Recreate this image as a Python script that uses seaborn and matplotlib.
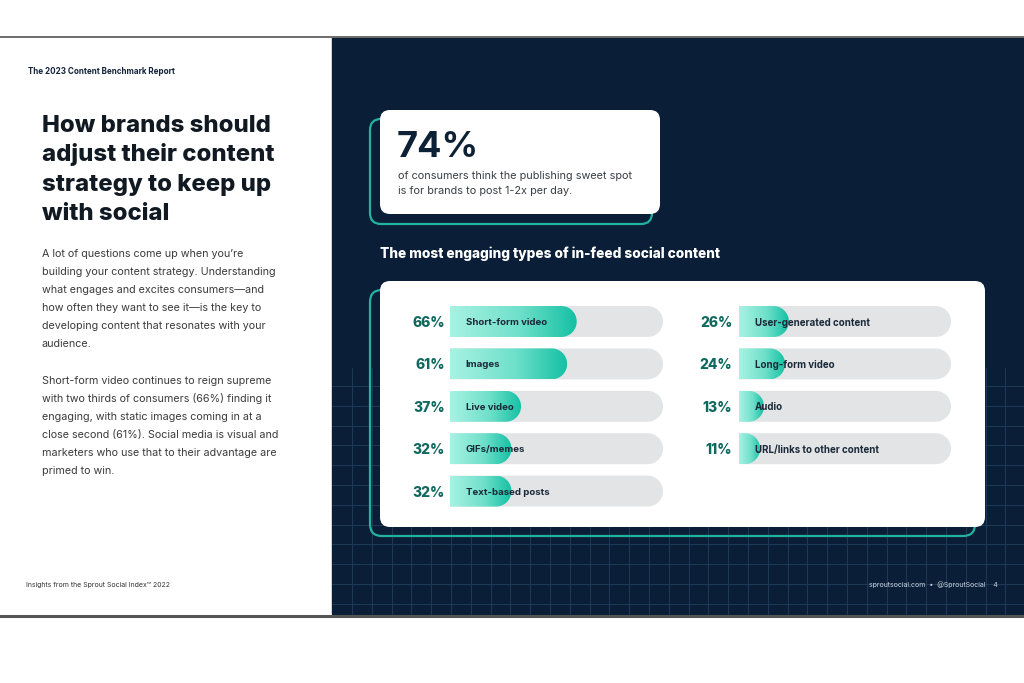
import numpy as np
import matplotlib
matplotlib.use("Agg")
import matplotlib.pyplot as plt
import seaborn as sns
import pandas as pd
from matplotlib.patches import FancyBboxPatch, PathPatch, Rectangle
from matplotlib.path import Path
from matplotlib.colors import LinearSegmentedColormap

# ---------------- data ----------------
left_categories = ["Short-form video", "Images", "Live video", "GIFs/memes", "Text-based posts"]
left_values = [66, 61, 37, 32, 32]
right_categories = ["User-generated content", "Long-form video", "Audio", "URL/links to other content"]
right_values = [26, 24, 13, 11]

callout_value = "74%"
callout_lines = ["of consumers think the publishing sweet spot",
                 "is for brands to post 1-2x per day."]
chart_title = "The most engaging types of in-feed social content"
header_text = "The 2023 Content Benchmark Report"
title_lines = ["How brands should", "adjust their content", "strategy to keep up", "with social"]
body_para1 = ["A lot of questions come up when you\u2019re",
              "building your content strategy. Understanding",
              "what engages and excites consumers\u2014and",
              "how often they want to see it\u2014is the key to",
              "developing content that resonates with your",
              "audience."]
body_para2 = ["Short-form video continues to reign supreme",
              "with two thirds of consumers (66%) finding it",
              "engaging, with static images coming in at a",
              "close second (61%). Social media is visual and",
              "marketers who use that to their advantage are",
              "primed to win."]
footer_left = "Insights from the Sprout Social Index\u2122 2022"
footer_right = "sproutsocial.com  \u2022  @SproutSocial    4"

# ---------------- style ----------------
sns.set_theme(style="white")
plt.rcParams["font.family"] = ["Inter", "DejaVu Sans"]

NAVY = "#0a1f37"
TEAL_LINE = "#22b29d"
TRACK = "#e2e4e6"
PCT_COLOR = "#10695f"
LABEL_COLOR = "#1a2938"
grad_cmap = LinearSegmentedColormap.from_list(
    "fill", [(0.0, "#a8f2e3"), (0.55, "#6fe0ca"), (1.0, "#13c0a4")])

W, H = 1024, 683
fig = plt.figure(figsize=(W / 100, H / 100), dpi=100)
fig.patch.set_facecolor("white")
bg = fig.add_axes([0, 0, 1, 1])
bg.set_xlim(0, W)
bg.set_ylim(H, 0)
bg.axis("off")

# page panels
bg.add_patch(Rectangle((332, 37), W - 332, 577, color=NAVY, zorder=0))
bg.plot([0, W], [36.5, 36.5], color="#6d6d6d", lw=1.4, zorder=1)
bg.plot([0, W], [615.5, 615.5], color="#555555", lw=2.2, zorder=1)

# faint grid on dark panel
for gx in np.arange(352, W, 19.8):
    bg.plot([gx, gx], [368, 614], color="#1f3a56", lw=0.7, zorder=0.5)
for gy in np.arange(386, 614, 19.8):
    bg.plot([332, W], [gy, gy], color="#1f3a56", lw=0.7, zorder=0.5)


def rbox(x0, y0, x1, y1, r, fc, ec, lw, z):
    p = FancyBboxPatch((x0 + r, y0 + r), x1 - x0 - 2 * r, y1 - y0 - 2 * r,
                       boxstyle=f"round,pad={r}", fc=fc, ec=ec, lw=lw, zorder=z)
    bg.add_patch(p)


# callout box
rbox(370, 119, 652, 224, 11, "none", TEAL_LINE, 1.6, 2)
rbox(380, 110, 660, 214, 10, "white", "none", 0, 3)
# chart box
rbox(370, 290, 975, 536, 12, "none", TEAL_LINE, 1.6, 2)
rbox(380, 281, 985, 527, 10, "white", "none", 0, 3)

# ---------------- left page text ----------------
bg.text(28, 74, header_text, fontsize=5.8, weight="bold", color="#13233a", zorder=5)
for i, line in enumerate(title_lines):
    bg.text(42, 132 + 29.4 * i, line, fontsize=17.2, weight="heavy", color="#111a22", zorder=5)
for i, line in enumerate(body_para1):
    bg.text(42, 257 + 18 * i, line, fontsize=7.75, color="#3b3b3b", zorder=5)
for i, line in enumerate(body_para2):
    bg.text(42, 384 + 18 * i, line, fontsize=7.75, color="#3b3b3b", zorder=5)
bg.text(26, 587, footer_left, fontsize=5, color="#333333", zorder=5)
bg.text(998, 587, footer_right, fontsize=5, color="#c9d2dc", ha="right", zorder=5)

# ---------------- callout ----------------
bg.text(397, 157, callout_value, fontsize=26, weight="bold", color="#0d2136", zorder=5)
for i, line in enumerate(callout_lines):
    bg.text(398, 179 + 15.5 * i, line, fontsize=7.85, color="#3a3f44", zorder=5)
bg.text(380, 258, chart_title, fontsize=9.85, weight="heavy", color="white", zorder=5)

# ---------------- bars ----------------
PX_PER_PCT = 1.92
ROW_H = 42.4
BAR_W = 0.73


def right_round_path(xa, ya, xb, yb):
    x0, x1 = min(xa, xb), max(xa, xb)
    y0, y1 = min(ya, yb), max(ya, yb)
    r = (y1 - y0) / 2
    cy = (y0 + y1) / 2
    rx = min(r, x1 - x0)
    cx = x1 - rx
    t = np.linspace(-np.pi / 2, np.pi / 2, 48)
    arc = np.column_stack([cx + rx * np.cos(t), cy + r * np.sin(t)])
    pts = np.vstack([[x0, y0], arc, [x0, y1], [x0, y0]])
    pts = fig.transFigure.inverted().transform(pts)
    codes = [Path.MOVETO] + [Path.LINETO] * (len(pts) - 2) + [Path.CLOSEPOLY]
    return Path(pts, codes)


def bar_panel(x0px, x1px, top_px, cats, vals, pct_offset, label_size):
    n = len(cats)
    hpx = n * ROW_H
    ax = fig.add_axes([x0px / W, 1 - (top_px + hpx) / H, (x1px - x0px) / W, hpx / H])
    ax.set_zorder(6)
    ax.patch.set_alpha(0)
    df = pd.DataFrame({"category": cats, "value": vals})
    sns.barplot(data=df, x="value", y="category", orient="h", ax=ax,
                width=BAR_W, color="#13c0a4", errorbar=None)
    xmax = (x1px - x0px) / PX_PER_PCT
    ax.set_xlim(0, xmax)
    ax.set_ylim(n - 0.5, -0.5)
    ax.axis("off")
    fills = list(ax.patches)
    geoms = [(p.get_x(), p.get_y(), p.get_width(), p.get_height()) for p in fills]
    for p in fills:
        p.remove()
    tracks = ax.barh(np.arange(n), xmax, height=BAR_W)
    tgeoms = [(p.get_x(), p.get_y(), p.get_width(), p.get_height()) for p in tracks]
    for p in list(tracks):
        p.remove()
    for (x, y, w, h) in tgeoms:
        (xa, ya), (xb, yb) = ax.transData.transform([[x, y], [x + w, y + h]])
        pp = PathPatch(right_round_path(xa, ya, xb, yb), transform=fig.transFigure,
                       fc=TRACK, ec="none", zorder=1, clip_on=False)
        ax.add_patch(pp)
    grad = np.linspace(0, 1, 256).reshape(1, -1)
    for (x, y, w, h) in geoms:
        (xa, ya), (xb, yb) = ax.transData.transform([[x, y], [x + w, y + h]])
        pp = PathPatch(right_round_path(xa, ya, xb, yb), transform=fig.transFigure,
                       fc="none", ec="none", zorder=2, clip_on=False)
        ax.add_patch(pp)
        im = ax.imshow(grad, extent=[x, x + w, y + h, y], cmap=grad_cmap,
                       aspect="auto", zorder=2, interpolation="bilinear")
        im.set_clip_path(pp)
    ax.set_xlim(0, xmax)
    ax.set_ylim(n - 0.5, -0.5)
    for i, (c, v) in enumerate(zip(cats, vals)):
        ax.annotate(c, xy=(0, i), xytext=(11.3, 0), textcoords="offset points",
                    ha="left", va="center_baseline", fontsize=label_size, weight="bold",
                    color=LABEL_COLOR, zorder=5, annotation_clip=False)
        ax.annotate(f"{v}%", xy=(0, i), xytext=(pct_offset, 0), textcoords="offset points",
                    ha="right", va="center_baseline", fontsize=10, weight="heavy",
                    color=PCT_COLOR, zorder=5, annotation_clip=False)
    return ax


bar_panel(450, 663, 300.3, left_categories, left_values, -3.6, 6.95)
bar_panel(739, 951, 300.3, right_categories, right_values, -4.8, 7.0)

fig.savefig("out.png", dpi=100, facecolor="white")
